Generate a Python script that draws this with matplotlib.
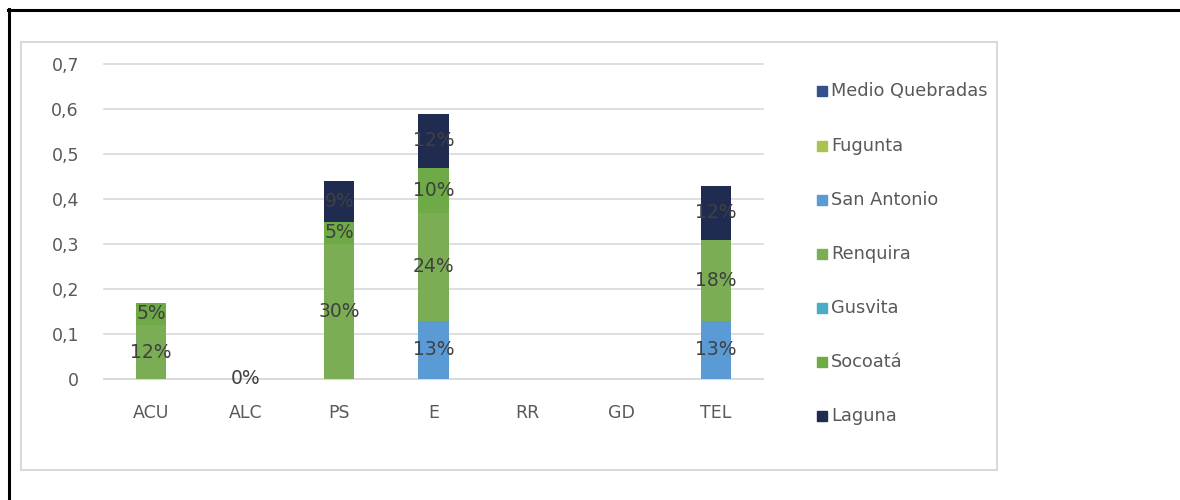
import numpy as np
import matplotlib
matplotlib.use("Agg")
import matplotlib.pyplot as plt
from matplotlib.lines import Line2D
from matplotlib.patches import Rectangle
from matplotlib.ticker import FuncFormatter

# data, stacked bottom -> top
categories = ["ACU", "ALC", "PS", "E", "RR", "GD", "TEL"]
nan = np.nan
medio_quebradas = [nan, nan, nan, nan, nan, nan, nan]
fugunta = [nan, nan, nan, nan, nan, nan, nan]
san_antonio = [nan, nan, nan, 0.13, nan, nan, 0.13]
renquira = [0.12, 0.0, 0.30, 0.24, nan, nan, 0.18]
gusvita = [nan, nan, nan, nan, nan, nan, nan]
socoata = [0.05, nan, 0.05, 0.10, nan, nan, nan]
laguna = [nan, nan, 0.09, 0.12, nan, nan, 0.12]

series_names = ["Medio Quebradas", "Fugunta", "San Antonio", "Renquira",
                "Gusvita", "Socoatá", "Laguna"]
series_vals = [medio_quebradas, fugunta, san_antonio, renquira,
               gusvita, socoata, laguna]
colors = ["#33508F", "#A9C34D", "#5B9BD5", "#7BAE54",
          "#4BACC6", "#6EAA45", "#202B50"]

W, H = 1180, 500
fig = plt.figure(figsize=(W / 100, H / 100), dpi=100)
plt.rcParams['font.family'] = ['DejaVu Sans']

def px(x, y):
    return x / W, 1 - y / H

# plot area
x0, x1, y0, y1 = 104, 763, 64, 379
ax = fig.add_axes([x0 / W, 1 - y1 / H, (x1 - x0) / W, (y1 - y0) / H])

x = np.arange(len(categories))
bottom = np.zeros(len(categories))
for name, vals, c in zip(series_names, series_vals, colors):
    v = np.array(vals, dtype=float)
    h = np.nan_to_num(v)
    bars = ax.bar(x, h, 0.32, bottom=bottom, color=c, zorder=3)
    labels = ["" if np.isnan(val) else "%d%%" % round(val * 100) for val in v]
    ax.bar_label(bars, labels=labels, label_type="center",
                 fontsize=13.5, color="#404040", zorder=4)
    bottom = bottom + h

ax.set_xlim(-0.5, len(categories) - 0.5)
ax.set_ylim(0, 0.7)
ax.set_yticks(np.arange(0, 0.71, 0.1))
ax.yaxis.set_major_formatter(FuncFormatter(
    lambda v, p: "0" if abs(v) < 1e-9 else ("%.1f" % v).replace(".", ",")))
ax.set_xticks(x)
ax.set_xticklabels(categories)
ax.grid(axis="y", color="#d9d9d9", linewidth=1.2, zorder=0)
for gl in ax.get_ygridlines():
    gl.set_clip_on(False)
for s in ["top", "right", "left"]:
    ax.spines[s].set_visible(False)
ax.spines["bottom"].set_color("#d9d9d9")
ax.spines["bottom"].set_linewidth(1.2)
ax.tick_params(length=0, labelsize=12.5, colors="#595959")
ax.tick_params(axis="x", pad=18)
ax.tick_params(axis="y", pad=18)
ax.set_facecolor("none")

# legend drawn by hand
leg_y = [91, 146, 200, 254, 308, 362, 416]
for name, c, yy in zip(series_names, colors, leg_y):
    fx, fy = px(817, yy + 5)
    fig.patches.append(Rectangle((fx, fy), 10 / W, 10 / H, color=c,
                                 transform=fig.transFigure, figure=fig))
    tx, ty = px(831, yy)
    fig.text(tx, ty, name, fontsize=12.8, color="#595959", va="center", ha="left")

# chart frame
gx0, gx1, gy0, gy1 = 21, 997, 42, 470
for (a, b), (c2, d) in [((gx0, gy0), (gx1, gy0)), ((gx1, gy0), (gx1, gy1)),
                       ((gx1, gy1), (gx0, gy1)), ((gx0, gy1), (gx0, gy0))]:
    p, q = px(a, b), px(c2, d)
    fig.lines.append(Line2D([p[0], q[0]], [p[1], q[1]], color="#d9d9d9",
                            linewidth=1.5, transform=fig.transFigure))

# black outer lines
p, q = px(8, 9.5), px(1180, 9.5)
fig.lines.append(Line2D([p[0], q[0]], [p[1], q[1]], color="black",
                        linewidth=2.2, transform=fig.transFigure))
p, q = px(8.5, 9), px(8.5, 500)
fig.lines.append(Line2D([p[0], q[0]], [p[1], q[1]], color="black",
                        linewidth=2.2, transform=fig.transFigure))

fig.savefig("out.png", dpi=100)
